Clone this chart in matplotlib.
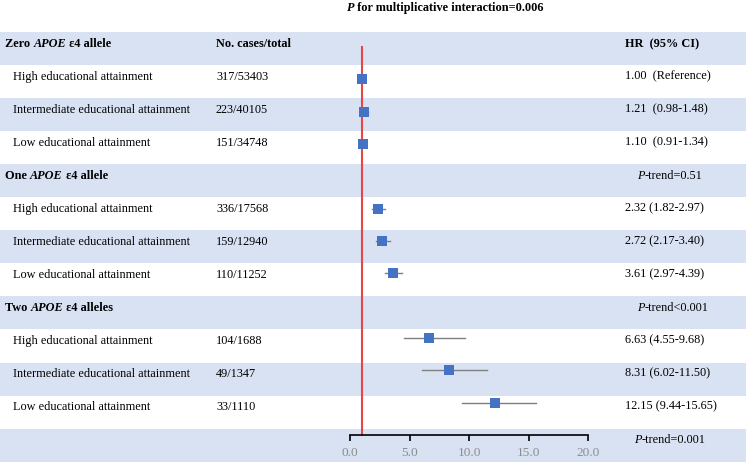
import matplotlib
matplotlib.use("Agg")
import matplotlib.pyplot as plt
import numpy as np

# ---------------- data ----------------
group_headers = ["Zero $\\mathit{APOE}$ ε4 allele", "One $\\mathit{APOE}$ ε4 allele", "Two $\\mathit{APOE}$ ε4 alleles"]
group_trend = ["", "P-trend=0.51", "P-trend<0.001"]
levels = ["High educational attainment", "Intermediate educational attainment", "Low educational attainment"]
cases = ["317/53403", "223/40105", "151/34748",
         "336/17568", "159/12940", "110/11252",
         "104/1688", "49/1347", "33/1110"]
hr = [1.00, 1.21, 1.10, 2.32, 2.72, 3.61, 6.63, 8.31, 12.15]
lo = [1.00, 0.98, 0.91, 1.82, 2.17, 2.97, 4.55, 6.02, 9.44]
hi = [1.00, 1.48, 1.34, 2.97, 3.40, 4.39, 9.68, 11.50, 15.65]
hr_text = ["1.00  (Reference)", "1.21  (0.98-1.48)", "1.10  (0.91-1.34)",
           "2.32 (1.82-2.97)", "2.72 (2.17-3.40)", "3.61 (2.97-4.39)",
           "6.63 (4.55-9.68)", "8.31 (6.02-11.50)", "12.15 (9.44-15.65)"]
xticks = [0.0, 5.0, 10.0, 15.0, 20.0]
title_text = "for multiplicative interaction=0.006"
overall_trend = "P-trend=0.001"

W, H = 748, 462
plt.rcParams['font.family'] = ['Liberation Serif', 'DejaVu Serif']
fig = plt.figure(figsize=(W / 100, H / 100), dpi=100)

bg = fig.add_axes([0, 0, 1, 1])
bg.set_xlim(0, W)
bg.set_ylim(H, 0)
bg.axis('off')

band_color = "#D9E2F3"
row_top = 32
row_h = 33.05
n_rows = 13
for i in range(n_rows):
    if i % 2 == 0:
        bg.add_patch(plt.Rectangle((0, row_top + i * row_h), 746, row_h, color=band_color, lw=0, zorder=0))

fs = 8.8
def yc(i):
    return 43.8 + i * 32.98

fig.canvas.draw()
R = fig.canvas.get_renderer()

def seq(x, y, pieces):
    """pieces: list of (text, weight, style)"""
    for txt, w, st in pieces:
        t = bg.text(x, y, txt, fontsize=fs, fontweight=w, fontstyle=st, va='center', ha='left')
        bb = t.get_window_extent(R)
        x = x + (bb.x1 - bb.x0)

# title
seq(347, 8, [("P", 'bold', 'italic'), (" " + title_text, 'bold', 'normal')])

for g in range(3):
    parts = group_headers[g].split("$\\mathit{APOE}$")
    seq(5, yc(4 * g), [(parts[0], 'bold', 'normal'), ("APOE", 'bold', 'italic'), (parts[1], 'bold', 'normal')])

bg.text(216, yc(0), "No. cases/total", fontsize=fs, fontweight='bold', va='center', ha='left')
bg.text(625, yc(0), "HR  (95% CI)", fontsize=fs, fontweight='bold', va='center', ha='left')

for g in range(1, 3):
    seq(637, yc(4 * g), [("P", 'normal', 'italic'), (group_trend[g][1:], 'normal', 'normal')])
seq(634, yc(12), [("P", 'normal', 'italic'), (overall_trend[1:], 'normal', 'normal')])

rows_idx = []
for g in range(3):
    for k in range(3):
        idx = 3 * g + k
        ri = 4 * g + 1 + k
        rows_idx.append(ri)
        bg.text(13, yc(ri), levels[k], fontsize=fs, va='center', ha='left')
        bg.text(216, yc(ri), cases[idx], fontsize=fs, va='center', ha='left')
        bg.text(625, yc(ri), hr_text[idx], fontsize=fs, va='center', ha='left')

# forest axes: x 350..588 px; y in row-index units, row 0 at 46.9 px, axis (row 12) at 435 px
x0, x1 = 350, 588
ytop, ybot = 46.9, 435
ax = fig.add_axes([x0 / W, 1 - ybot / H, (x1 - x0) / W, (ybot - ytop) / H])
ax.set_xlim(0, 20)
ax.set_ylim(12, 0)
ax.patch.set_alpha(0)
for s in ['top', 'right', 'left']:
    ax.spines[s].set_visible(False)
ax.spines['bottom'].set_linewidth(1.2)
ax.set_yticks([])
ax.set_xticks(xticks)
ax.set_xticklabels([f"{v:.1f}" for v in xticks], color="#8C8C8C", fontsize=9.6)
ax.tick_params(axis='x', direction='out', length=4, width=1.2, pad=5)

ax.plot([1, 1], [0, 12], color="#E8454A", lw=1.5, zorder=2, clip_on=False)
for i in range(9):
    ax.plot([lo[i], hi[i]], [rows_idx[i], rows_idx[i]], color="#7F7F7F", lw=1.0, zorder=3)
ax.scatter(hr, rows_idx, marker='s', s=45, color="#4472C4", zorder=4, linewidths=0)

fig.savefig("out.png", dpi=100)
